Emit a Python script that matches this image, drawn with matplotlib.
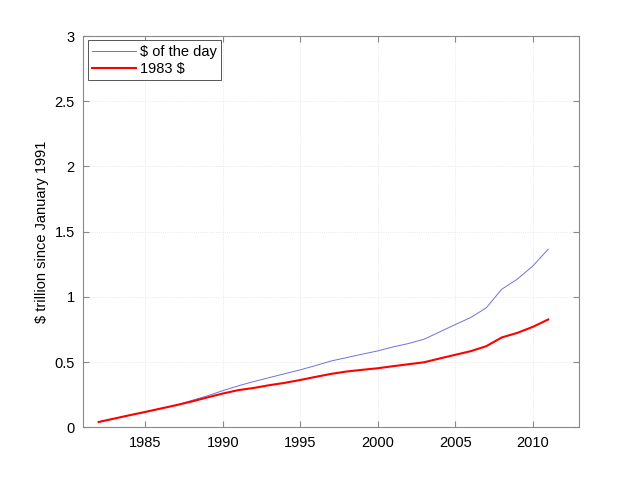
import matplotlib
matplotlib.use("Agg")
import matplotlib.pyplot as plt
from matplotlib.ticker import FuncFormatter

plt.rcParams['font.family'] = ['Liberation Sans', 'DejaVu Sans']

# values
years = list(range(1982, 2012))
nominal = [0.040, 0.066, 0.092, 0.117, 0.143, 0.169, 0.205, 0.240, 0.280, 0.317,
           0.350, 0.380, 0.410, 0.440, 0.473, 0.508, 0.534, 0.560, 0.585, 0.616,
           0.642, 0.675, 0.731, 0.787, 0.841, 0.915, 1.058, 1.135, 1.235, 1.365]
real_1983 = [0.040, 0.066, 0.092, 0.117, 0.143, 0.169, 0.197, 0.228, 0.258, 0.284,
             0.301, 0.322, 0.340, 0.362, 0.386, 0.409, 0.427, 0.440, 0.452, 0.468,
             0.483, 0.498, 0.527, 0.555, 0.583, 0.621, 0.688, 0.723, 0.769, 0.826]
labels = ['$ of the day', '1983 $']
x_ticks = [1985, 1990, 1995, 2000, 2005, 2010]
y_ticks = [0, 0.5, 1, 1.5, 2, 2.5, 3]

fig = plt.figure(figsize=(6.4, 4.8), dpi=100)
ax = fig.add_axes([0.13, 0.11, 0.775, 0.815])

ax.plot(years, nominal, color='#7070e0', linewidth=0.7, label=labels[0].replace('$', r'\$'))
ax.plot(years, real_1983, color='#ff0000', linewidth=1.5, label=labels[1].replace('$', r'\$'))

ax.set_xlim(1981, 2013)
ax.set_ylim(0, 3)
ax.set_xticks(x_ticks)
ax.set_yticks(y_ticks)
ax.yaxis.set_major_formatter(FuncFormatter(lambda v, p: '%g' % v))
ax.grid(True, color='#e2e2e2', linestyle=':', linewidth=0.6)
ax.tick_params(direction='in', top=True, right=True, labelsize=10.5,
               color='#888888', length=4, pad=6)
for s in ax.spines.values():
    s.set_color('#888888')
    s.set_linewidth(0.8)

ax.set_ylabel(r'\$ trillion since January 1991', fontsize=10.5)

leg = ax.legend(loc='upper left', fontsize=10.5, fancybox=False, framealpha=1,
                edgecolor='#555555', borderaxespad=0.3, handlelength=3.0,
                borderpad=0.3, labelspacing=0.2, handletextpad=0.3)
leg.get_frame().set_linewidth(0.7)

fig.savefig('out.png', dpi=100)
